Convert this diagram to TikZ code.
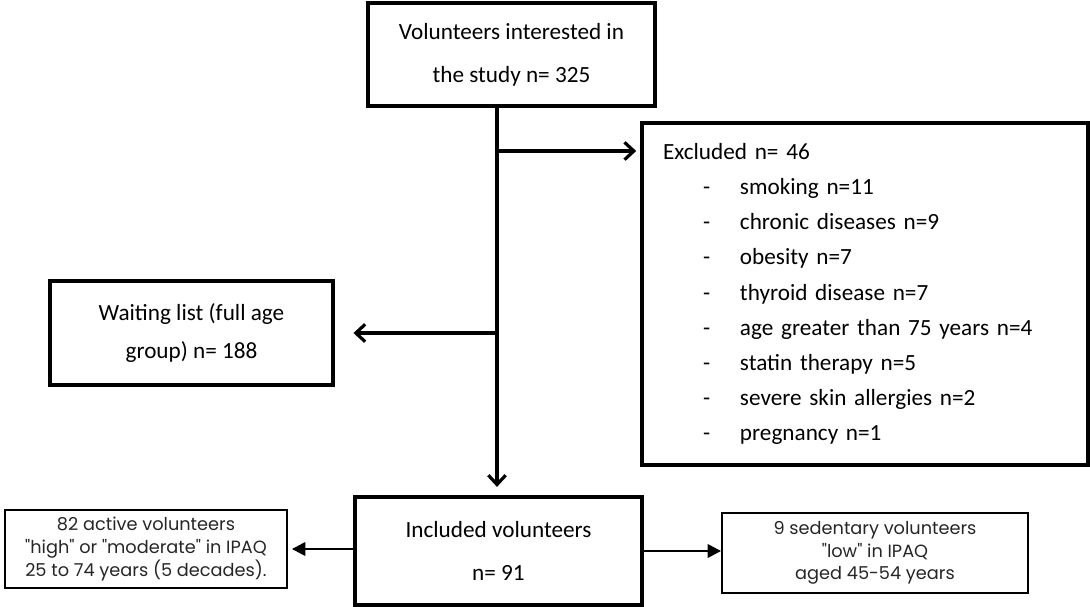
\documentclass[tikz,border=0pt]{standalone}
\usepackage{fontspec}
\setmainfont{Carlito}
\newfontfamily\sidefont{Poppins}
\usetikzlibrary{arrows.meta}
\begin{document}
\begin{tikzpicture}[x=0.75pt,y=-0.75pt,
    mainbox/.style={draw,line width=3.2pt,align=center,font=\fontsize{17.4}{32}\selectfont},
    sidebox/.style={draw,line width=1.4pt,align=center,text=black!85,font=\sidefont\fontsize{13.3}{17}\selectfont},
    flow/.style={line width=2.4pt,-{Straight Barb[length=7pt,width=13pt]}},
    branch/.style={line width=1.8pt,-{Triangle[length=10pt,width=10pt]}}]
    \useasboundingbox (0,0) rectangle (1090,607);
    \node[mainbox,minimum width=287*0.75pt,minimum height=103*0.75pt] (study) at (511.5,54.5) {Volunteers interested in\\the study n= 325};
    \node[mainbox,line width=2.7pt,align=left,font=\fontsize{17.4}{26.3}\selectfont,
          text width=404*0.75pt,inner xsep=21*0.75pt,minimum height=342*0.75pt] (excl) at (865,294) {Excluded n= 46\\
        \hspace*{30pt}\makebox[27.75pt][l]{-}smoking n=11\\
        \hspace*{30pt}\makebox[27.75pt][l]{-}chronic diseases n=9\\
        \hspace*{30pt}\makebox[27.75pt][l]{-}obesity n=7\\
        \hspace*{30pt}\makebox[27.75pt][l]{-}thyroid disease n=7\\
        \hspace*{30pt}\makebox[27.75pt][l]{-}age greater than 75 years n=4\\
        \hspace*{30pt}\makebox[27.75pt][l]{-}statin therapy n=5\\
        \hspace*{30pt}\makebox[27.75pt][l]{-}severe skin allergies n=2\\
        \hspace*{30pt}\makebox[27.75pt][l]{-}pregnancy n=1};
    \node[mainbox,line width=2.7pt,font=\fontsize{17.4}{28}\selectfont,minimum width=283*0.75pt,minimum height=104*0.75pt] (wait) at (191.5,333) {Waiting list (full age\\group) n= 188};
    \node[mainbox,minimum width=287*0.75pt,minimum height=108*0.75pt] (incl) at (498.5,551) {Included volunteers\\n= 91};
    \node[sidebox,minimum width=282*0.75pt,minimum height=78*0.75pt] (active) at (146,549) {82 active volunteers\\"high" or "moderate" in IPAQ\\25 to 74 years (5 decades).};
    \node[sidebox,minimum width=306*0.75pt,minimum height=80*0.75pt] (sed) at (875,553) {9 sedentary volunteers\\"low" in IPAQ\\aged 45-54 years};
    \coordinate (excl split) at (497,151);
    \coordinate (wait split) at (497,333);
    \draw[flow,shorten >=6pt] (study.south -| excl split) -- (incl.north -| excl split);
    \draw[flow,shorten >=3pt] (excl split) -- (excl.west |- excl split);
    \draw[flow,shorten >=14pt] (wait split) -- (wait.east |- wait split);
    \draw[branch,shorten >=3pt] (incl.west |- active.east) -- (active.east);
    \draw[branch] (incl.east) -- (incl.east -| sed.west);
\end{tikzpicture}
\end{document}
